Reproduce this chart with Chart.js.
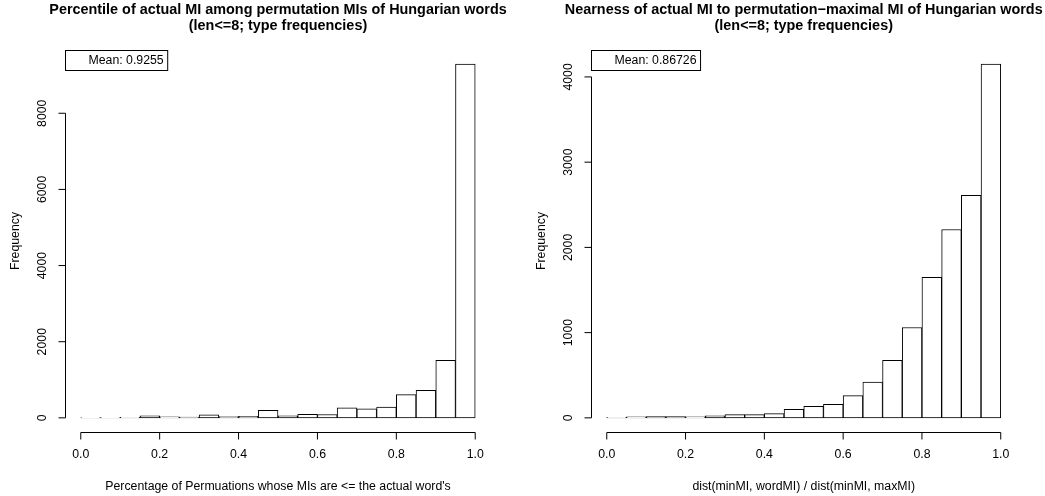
<!DOCTYPE html>
<html>
<head>
<meta charset="utf-8">
<script src="https://cdn.jsdelivr.net/npm/chart.js@4.4.1/dist/chart.umd.min.js"></script>
<style>
  html, body { margin: 0; padding: 0; background: #fff; }
  #wrap { position: relative; width: 1045px; height: 496px; }
  .panel { position: absolute; left: 0; top: 0; width: 1045px; height: 496px; }
</style>
</head>
<body>
<div id="wrap">
  <div class="panel"><canvas id="leftChart"></canvas></div>
  <div class="panel"><canvas id="rightChart"></canvas></div>
</div>
<script>
// histogram breaks (20 bins of 0.05)
const breaks = [0, 0.05, 0.1, 0.15, 0.2, 0.25, 0.3, 0.35, 0.4, 0.45, 0.5,
                0.55, 0.6, 0.65, 0.7, 0.75, 0.8, 0.85, 0.9, 0.95, 1];
const percentileCounts = [8, 10, 14, 55, 28, 18, 82, 35, 40, 195,
                          55, 90, 88, 265, 240, 285, 610, 720, 1510, 9290];
const nearnessCounts = [5, 12, 15, 15, 12, 25, 38, 38, 50, 100,
                        135, 160, 260, 420, 675, 1060, 1650, 2210, 2610, 4150];
const xTicks = [0, 0.2, 0.4, 0.6, 0.8, 1];
const xTickLabels = ['0.0', '0.2', '0.4', '0.6', '0.8', '1.0'];
const leftYTicks = [0, 2000, 4000, 6000, 8000];
const rightYTicks = [0, 1000, 2000, 3000, 4000];
const leftTitle = ['Percentile of actual MI among permutation MIs of Hungarian words', '(len<=8; type frequencies)'];
const rightTitle = ['Nearness of actual MI to permutation\u2212maximal MI of Hungarian words', '(len<=8; type frequencies)'];
const leftXLabel = "Percentage of Permuations whose MIs are <= the actual word's";
const rightXLabel = 'dist(minMI, wordMI) / dist(minMI, maxMI)';
const leftMean = 'Mean: 0.9255';
const rightMean = 'Mean: 0.86726';

const FONT = '"Liberation Sans", Arial, Helvetica, sans-serif';

// R-like axes, titles and legend box drawn from the chart's own scales
const rStyle = {
    id: 'rStyle',
    afterDraw(chart, args, opts) {
        const { ctx, chartArea: a, scales: { x, y } } = chart;
        ctx.save();
        ctx.strokeStyle = '#000';
        ctx.fillStyle = '#000';
        ctx.lineWidth = 1;

        // x axis
        const xb = Math.round(a.bottom) + 0.5;
        ctx.beginPath();
        ctx.moveTo(x.getPixelForValue(xTicks[0]), xb);
        ctx.lineTo(x.getPixelForValue(xTicks[xTicks.length - 1]), xb);
        xTicks.forEach(v => {
            const px = x.getPixelForValue(v);
            ctx.moveTo(px, xb);
            ctx.lineTo(px, xb + 7);
        });
        // y axis
        const yl = Math.round(a.left) + 0.5;
        ctx.moveTo(yl, y.getPixelForValue(opts.yTicks[0]));
        ctx.lineTo(yl, y.getPixelForValue(opts.yTicks[opts.yTicks.length - 1]));
        opts.yTicks.forEach(v => {
            const py = y.getPixelForValue(v);
            ctx.moveTo(yl, py);
            ctx.lineTo(yl - 7, py);
        });
        ctx.stroke();

        ctx.font = '12.3px ' + FONT;
        ctx.textAlign = 'center';
        ctx.textBaseline = 'middle';
        xTicks.forEach((v, i) => ctx.fillText(xTickLabels[i], x.getPixelForValue(v), xb + 22));
        ctx.fillText(opts.xLabel, (a.left + a.right) / 2, xb + 54);

        opts.yTicks.forEach(v => {
            ctx.save();
            ctx.translate(yl - 23, y.getPixelForValue(v));
            ctx.rotate(-Math.PI / 2);
            ctx.fillText(String(v), 0, 0);
            ctx.restore();
        });
        ctx.save();
        ctx.translate(yl - 50, (a.top + a.bottom) / 2);
        ctx.rotate(-Math.PI / 2);
        ctx.fillText('Frequency', 0, 0);
        ctx.restore();

        // title
        ctx.font = 'bold 14.4px ' + FONT;
        opts.title.forEach((t, i) => ctx.fillText(t, (a.left + a.right) / 2, 10 + i * 16));

        // legend box
        ctx.font = '12.3px ' + FONT;
        const tw = ctx.measureText(opts.mean).width;
        const bx = yl, by = Math.round(a.top) + 0.5;
        ctx.strokeRect(bx, by, tw + 27, 20);
        ctx.textAlign = 'left';
        ctx.fillText(opts.mean, bx + 23, by + 10);
        ctx.restore();
    }
};

function makeHist(id, counts, pad, opts) {
    const centers = breaks.slice(0, -1).map((b, i) => (b + breaks[i + 1]) / 2);
    const ymax = Math.max(...counts);
    return new Chart(document.getElementById(id), {
        type: 'bar',
        data: {
            datasets: [{
                data: counts.map((c, i) => ({ x: centers[i], y: c })),
                backgroundColor: '#ffffff',
                borderColor: '#000000',
                borderWidth: 1,
                borderSkipped: false,
                barPercentage: 1,
                categoryPercentage: 1,
            }]
        },
        options: {
            responsive: true, maintainAspectRatio: false,
            animation: false,
            layout: { padding: pad },
            plugins: { legend: { display: false }, tooltip: { enabled: false }, rStyle: opts },
            scales: {
                x: { type: 'linear', display: false, offset: false, min: -0.04, max: 1.04 },
                y: { type: 'linear', display: false, min: -0.04 * ymax, max: 1.04 * ymax }
            }
        },
        plugins: [rStyle]
    });
}

makeHist('leftChart', percentileCounts,
    { left: 65, right: 1045 - 491, top: 50, bottom: 496 - 432 },
    { yTicks: leftYTicks, title: leftTitle, xLabel: leftXLabel, mean: leftMean });

makeHist('rightChart', nearnessCounts,
    { left: 591, right: 1045 - 1016.5, top: 50, bottom: 496 - 432 },
    { yTicks: rightYTicks, title: rightTitle, xLabel: rightXLabel, mean: rightMean });
</script>
</body>
</html>
